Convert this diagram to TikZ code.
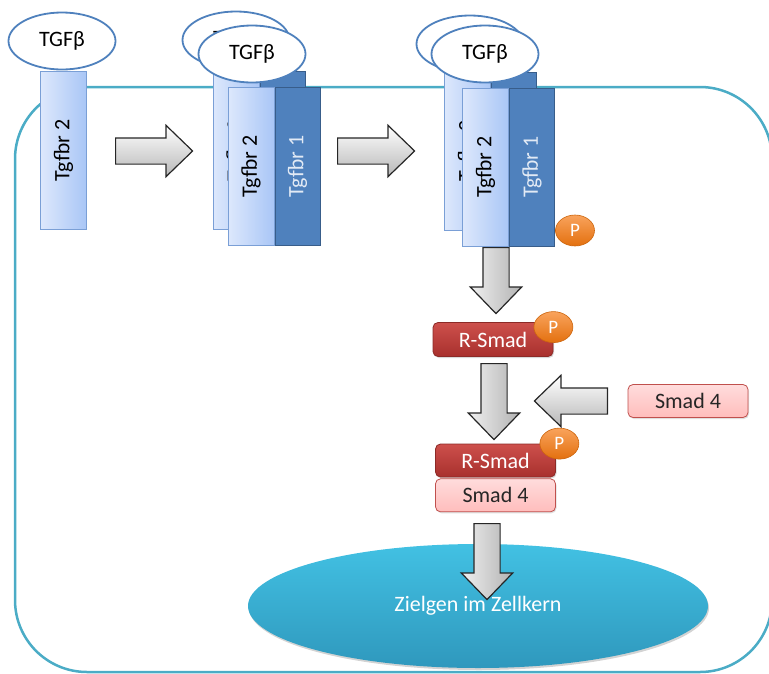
\documentclass[tikz,border=0pt]{standalone}
\usepackage{fontspec}
\setmainfont{Carlito}
\usetikzlibrary{shapes.geometric,shapes.arrows,shadows,positioning}

\definecolor{cellline}{HTML}{4BACC6}
\definecolor{ligline}{HTML}{4F81BD}
\definecolor{rlight}{HTML}{DDE8FC}
\definecolor{rmid}{HTML}{A9C6F6}
\definecolor{rlightline}{HTML}{7A9FD6}
\definecolor{rdark}{HTML}{4F81BD}
\definecolor{rdarkline}{HTML}{385D8A}
\definecolor{rdarktext}{HTML}{E2EAF5}
\definecolor{smadred}{HTML}{CD504C}
\definecolor{smadredlow}{HTML}{A8302D}
\definecolor{smadredline}{HTML}{8C2A27}
\definecolor{smadpink}{HTML}{FFDCDC}
\definecolor{smadpinklow}{HTML}{FFBDBC}
\definecolor{smadpinkline}{HTML}{C0504D}
\definecolor{phostop}{HTML}{F9A35C}
\definecolor{phoslow}{HTML}{E3700F}
\definecolor{nuctop}{HTML}{42C1E3}
\definecolor{nuclow}{HTML}{2F98BD}
\definecolor{arrowline}{HTML}{262626}

\begin{document}
\begin{tikzpicture}[x=1pt, y=-1pt,
        every node/.style={font=\fontsize{22}{24}\selectfont, inner sep=0pt},
        ligand/.style={ellipse, draw=ligline, line width=1.8pt, fill=white, minimum width=107pt, minimum height=57pt},
        tbrtwo/.style={draw=rlightline, line width=1pt, left color=rlight, right color=rmid, minimum width=46pt, minimum height=158pt},
        tbrone/.style={draw=rdarkline, line width=1pt, fill=rdark, text=rdarktext, minimum width=45pt, minimum height=158pt},
        phos/.style={ellipse, draw=phoslow!90!black, line width=0.6pt, top color=phostop, bottom color=phoslow, text=white, minimum width=39pt, minimum height=31pt, font=\fontsize{19}{20}\selectfont},
        rsmad/.style={rounded corners=5pt, draw=smadredline, line width=0.8pt, top color=smadred, bottom color=smadredlow, text=white, minimum width=120pt, minimum height=34pt, drop shadow={opacity=0.3, shadow xshift=1pt, shadow yshift=-1.5pt}},
        smadfour/.style={rounded corners=5pt, draw=smadpinkline, line width=0.8pt, top color=smadpink, bottom color=smadpinklow, text=black!85, minimum width=120pt, minimum height=33pt, drop shadow={opacity=0.25, shadow xshift=1pt, shadow yshift=-1.5pt}},
        fatarrow/.style={single arrow, draw=arrowline, line width=1.2pt, inner sep=12.5pt, single arrow head extend=12.5pt, single arrow tip angle=88},
        nucleus/.style={ellipse, top color=nuctop, bottom color=nuclow, text=white, minimum width=460pt, minimum height=124pt, drop shadow={opacity=0.35, shadow xshift=1pt, shadow yshift=-2pt}},
    ]
    \useasboundingbox (0,0) rectangle (769,673);
    \clip (0,0) rectangle (769,673);

    % cell membrane, the right side lies past the edge
    \draw[cellline, line width=2.5pt]
        (772,159) .. controls (772,119.2) and (739.8,87) .. (700,87) -- (87,87)
        .. controls (47.2,87) and (15,119.2) .. (15,159) -- (15,600)
        .. controls (15,639.8) and (47.2,672) .. (87,672) -- (700,672)
        .. controls (739.8,672) and (772,639.8) .. (772,600);

    % single receptor with ligand
    \node[ligand] (lig1) at (62,41) {TGFβ};
    \node[tbrtwo] (ra) at (63.5,150.5) {\rotatebox{90}{Tgfbr 2}};

    % receptor pair, second step
    \node[ligand] (lig2b) at (236,40) {TGFβ};
    \node[tbrtwo] (rb2b) at (236,150.5) {\rotatebox{90}{Tgfbr 2}};
    \node[tbrone, right=0pt of rb2b] (rb1b) {\rotatebox{90}{Tgfbr 1}};
    \node[ligand] (lig2) at (252,54) {TGFβ};
    \node[tbrtwo] (rb2) at (251,166.5) {\rotatebox{90}{Tgfbr 2}};
    \node[tbrone, right=0pt of rb2] (rb1) {\rotatebox{90}{Tgfbr 1}};

    % receptor pair, phosphorylated
    \node[ligand] (lig3b) at (470,44) {TGFβ};
    \node[tbrtwo] (rc2b) at (467.5,151) {\rotatebox{90}{Tgfbr 2}};
    \node[tbrone, right=0pt of rc2b] (rc1b) {\rotatebox{90}{Tgfbr 1}};
    \node[ligand] (lig3) at (485,54) {TGFβ};
    \node[tbrtwo] (rc2) at (485.5,167) {\rotatebox{90}{Tgfbr 2}};
    \node[tbrone, right=0pt of rc2] (rc1) {\rotatebox{90}{Tgfbr 1}};
    \node[phos] (pc) at ([shift={(20,-16)}]rc1.south east) {P};

    % smads
    \node[rsmad] (rs1) at (493,339.5) {R-Smad};
    \node[phos] (p1) at ([yshift=-5pt]rs1.north east) {P};
    \node[smadfour] (s4) at (688,401) {Smad 4};
    \node[rsmad, minimum height=33pt] (rs2) at (495.5,460.5) {R-Smad};
    \node[smadfour, below=1pt of rs2] (s4b) {Smad 4};
    \node[phos] (p2) at ([xshift=3.5pt]rs2.north east) {P};

    % nucleus
    \node[nucleus] (nuc) at (478,606) {\raisebox{-4pt}{Zielgen im Zellkern}};

    % block arrows
    \node[fatarrow, top color=white, bottom color=black!28, anchor=tail, minimum height=77pt] (a1) at (115,151) {};
    \node[fatarrow, top color=white, bottom color=black!28, anchor=tail, minimum height=77pt] (a2) at (337,151) {};
    \node[fatarrow, left color=black!6, right color=black!30, shape border rotate=270, anchor=tail, minimum height=66pt] (a3) at (496,247) {};
    \node[fatarrow, left color=black!6, right color=black!30, shape border rotate=270, anchor=tail, minimum height=76pt] (a4) at (494,363) {};
    \node[fatarrow, top color=white, bottom color=black!28, shape border rotate=180, anchor=tail, minimum height=73pt] (a5) at (608,401) {};
    \node[fatarrow, left color=black!6, right color=black!30, shape border rotate=270, anchor=tail, minimum height=76pt] (a6) at (487,523) {};
\end{tikzpicture}
\end{document}
